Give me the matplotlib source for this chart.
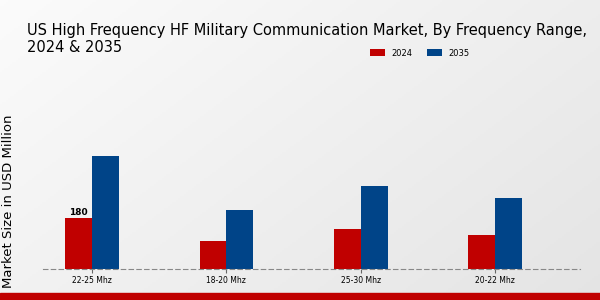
import matplotlib.pyplot as plt
import numpy as np
from matplotlib.patches import Rectangle

categories = ['22-25 Mhz', '18-20 Mhz', '25-30 Mhz', '20-22 Mhz']
values_2024 = [180, 98, 141, 120]
values_2035 = [402, 211, 296, 251]
series_names = ['2024', '2035']
colors = ['#c00000', '#004488']
title_lines = ['US High Frequency HF Military Communication Market, By Frequency Range,',
               '2024 & 2035']

fig = plt.figure(figsize=(6, 3), dpi=100)

# background gradient, light at top-left, greyer at bottom-right
bg = fig.add_axes([0, 0, 1, 1], zorder=-10)
gx, gy = np.meshgrid(np.linspace(0, 1, 300), np.linspace(0, 1, 150))
t = np.clip(0.6 * gx + 0.4 * gy, 0, 1)
shade = 0.985 - 0.09 * t
img = np.dstack([shade, shade, shade])
bg.imshow(img, aspect='auto', extent=[0, 1, 0, 1], origin='upper')
bg.set_axis_off()
bg.add_patch(Rectangle((0, 0), 1, 7 / 300, color='#c00000', transform=bg.transAxes))

ax = fig.add_axes([43 / 600, 31 / 300, 537 / 600, 169 / 300])
ax.patch.set_alpha(0)
x = np.arange(len(categories))
w = 0.2
b1 = ax.bar(x - w / 2, values_2024, w, color=colors[0], label=series_names[0])
b2 = ax.bar(x + w / 2, values_2035, w, color=colors[1], label=series_names[1])
ax.text(x[0] - w / 2, values_2024[0] + 4, str(values_2024[0]), ha='center', va='bottom',
        fontsize=6.5, fontweight='bold')

ax.set_xlim(-0.364, 3.63)
ax.set_ylim(0, 600)
ax.set_yticks([])
ax.set_xticks(x)
ax.set_xticklabels(categories, fontsize=5.5)
ax.tick_params(axis='x', length=3, color='#666666', pad=2)
for s in ['top', 'right', 'left']:
    ax.spines[s].set_visible(False)
ax.spines['bottom'].set_linestyle((0, (4, 3)))
ax.spines['bottom'].set_color('#888888')
ax.spines['bottom'].set_linewidth(0.8)

# title in two separate lines
fig.text(27 / 600, 1 - 35 / 300, title_lines[0], fontsize=10.5, va='baseline', ha='left')
fig.text(27 / 600, 1 - 52 / 300, title_lines[1], fontsize=10.5, va='baseline', ha='left')
fig.text(9 / 600, 0.33, 'Market Size in USD Million', rotation=90, fontsize=9.5,
         ha='center', va='center')

fig.legend(handles=[b1, b2], labels=series_names, loc='center left',
           bbox_to_anchor=(362 / 600, 1 - 53 / 300), ncol=2, frameon=False,
           fontsize=6, handlelength=1.8, handleheight=0.8,
           columnspacing=1.8, handletextpad=0.8)

fig.savefig('out.png', dpi=100)
